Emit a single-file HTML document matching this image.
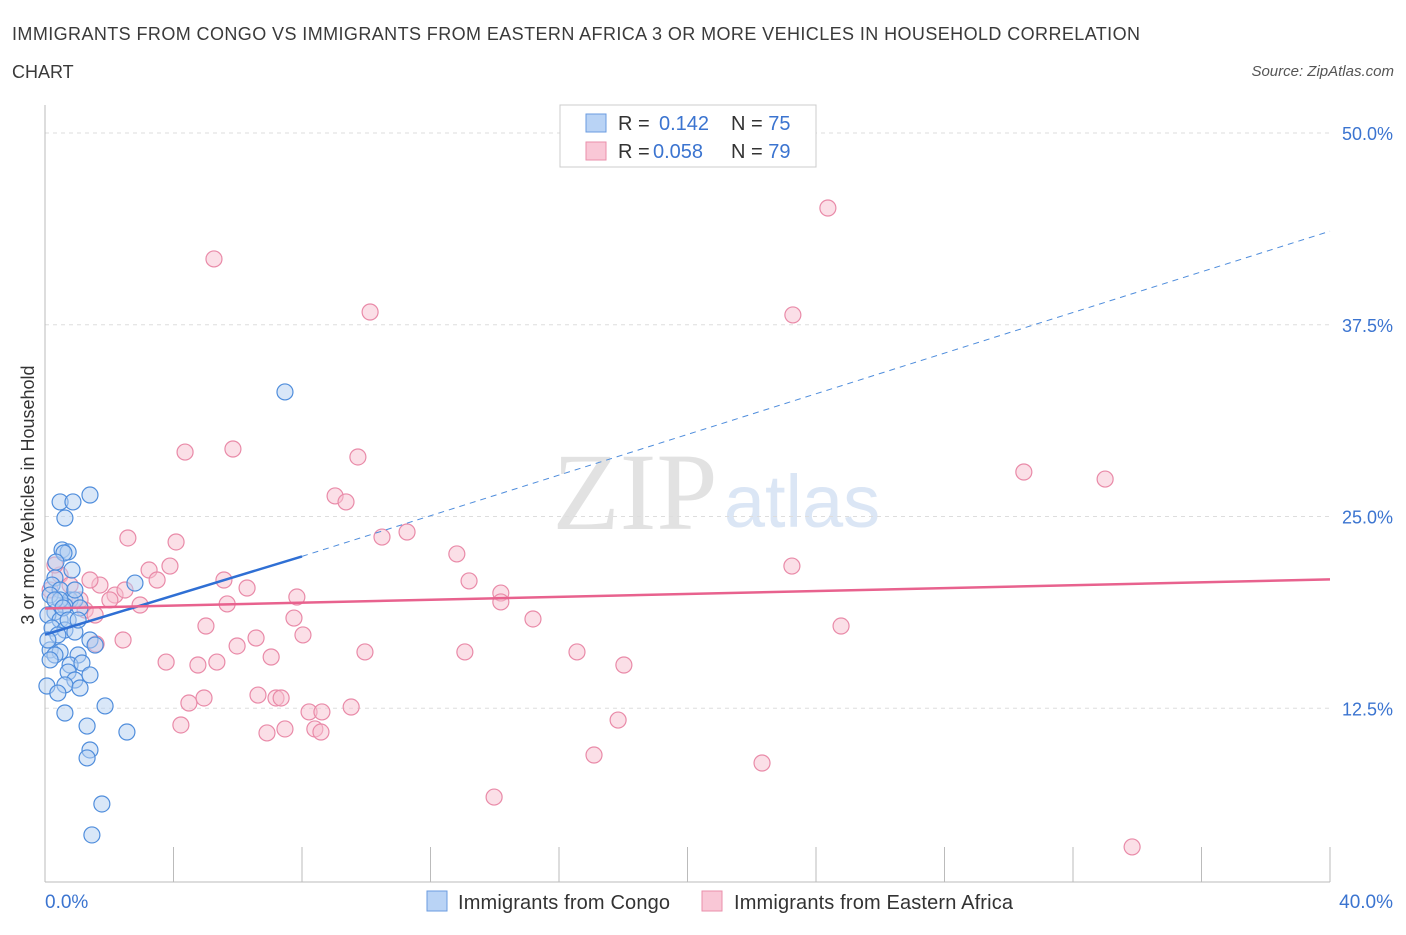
<!DOCTYPE html>
<html><head><meta charset="utf-8"><style>
body{margin:0;background:#fff;font-family:"Liberation Sans",sans-serif}
</style></head><body>
<svg id="chart" width="1406" height="930" xmlns="http://www.w3.org/2000/svg">
<text x="12" y="40" font-size="18" fill="#3a3a3a" textLength="1128">IMMIGRANTS FROM CONGO VS IMMIGRANTS FROM EASTERN AFRICA 3 OR MORE VEHICLES IN HOUSEHOLD CORRELATION</text>
<text x="12" y="78" font-size="18" fill="#3a3a3a">CHART</text>
<text x="1394" y="76" font-size="15" font-style="italic" fill="#555" text-anchor="end">Source: ZipAtlas.com</text>
<text x="635" y="529" font-size="110" font-family="Liberation Serif,serif" fill="#e2e2e2" text-anchor="middle">ZIP</text>
<text x="802" y="527" font-size="74" fill="#dbe6f5" text-anchor="middle">atlas</text>
<g id="grid"></g>
<line x1="45" y1="105" x2="45" y2="882" stroke="#bbb"/>
<line x1="45" y1="882" x2="1330" y2="882" stroke="#bbb"/>
<text transform="translate(34,495) rotate(-90)" font-size="18" fill="#333" text-anchor="middle">3 or more Vehicles in Household</text>
<text x="45" y="908" font-size="19" fill="#3b74d0">0.0%</text>
<text x="1393" y="908" font-size="19" fill="#3b74d0" text-anchor="end">40.0%</text>
<g id="marks"></g>
<rect x="560" y="105" width="256" height="62" fill="#fff" stroke="#ccc"/>
<rect x="586" y="114" width="20" height="18" fill="#b9d3f5" stroke="#6a9be0"/>
<rect x="586" y="142" width="20" height="18" fill="#f9c7d6" stroke="#ea8fab"/>
<text x="618" y="130" font-size="20" fill="#333">R = <tspan fill="#3b74d0" x="659">0.142</tspan><tspan x="731" fill="#333">N = </tspan><tspan fill="#3b74d0">75</tspan></text>
<text x="618" y="158" font-size="20" fill="#333">R = <tspan fill="#3b74d0" x="653">0.058</tspan><tspan x="731" fill="#333">N = </tspan><tspan fill="#3b74d0">79</tspan></text>
<rect x="427" y="891" width="20" height="20" fill="#b9d3f5" stroke="#6a9be0"/>
<text x="458" y="909" font-size="20" fill="#333" textLength="212">Immigrants from Congo</text>
<rect x="702" y="891" width="20" height="20" fill="#f9c7d6" stroke="#ea8fab"/>
<text x="734" y="909" font-size="20" fill="#333" textLength="279">Immigrants from Eastern Africa</text>
</svg>
<script>
const yTicks=[12.5,25,37.5,50];
const yTickLabels=["12.5%","25.0%","37.5%","50.0%"];
const xTicks=[0,4,8,12,16,20,24,28,32,36,40];
const congoPx=[[90,495],[60,502],[73,502],[65,518],[62,550],[68,552],[64,553],[56,562],[55,578],[52,585],[60,590],[50,595],[70,600],[75,600],[65,606],[80,608],[55,612],[48,615],[60,620],[52,628],[65,630],[75,632],[58,635],[90,640],[95,645],[50,650],[60,652],[55,655],[78,655],[70,665],[82,663],[68,672],[90,675],[75,680],[65,685],[80,688],[47,686],[58,693],[65,713],[105,706],[87,726],[127,732],[90,750],[87,758],[102,804],[92,835],[135,583],[285,392],[48,640],[50,660],[60,600],[72,570],[75,590],[55,600],[63,608],[68,620],[78,620]];
const eastPx=[[828,208],[214,259],[370,312],[793,315],[233,449],[185,452],[358,457],[1024,472],[1105,479],[335,496],[346,502],[128,538],[176,542],[382,537],[407,532],[457,554],[792,566],[149,570],[170,566],[157,580],[224,580],[469,581],[247,588],[501,593],[501,602],[297,597],[227,604],[533,619],[841,626],[206,626],[294,618],[303,635],[256,638],[123,640],[237,646],[271,657],[365,652],[465,652],[577,652],[624,665],[166,662],[198,665],[217,662],[96,644],[258,695],[276,698],[281,698],[204,698],[189,703],[309,712],[322,712],[351,707],[181,725],[267,733],[285,729],[315,729],[321,732],[618,720],[594,755],[762,763],[494,797],[1132,847],[100,585],[115,595],[110,600],[125,590],[140,605],[90,580],[60,575],[55,565],[70,585],[85,610],[95,615],[80,600],[50,590]];
const congoX=congoPx.map(p=>+((p[0]-45)/1285*40).toFixed(2));
const congoY=congoPx.map(p=>+((900-p[1])/767*50).toFixed(2));
const eastX=eastPx.map(p=>+((p[0]-45)/1285*40).toFixed(2));
const eastY=eastPx.map(p=>+((900-p[1])/767*50).toFixed(2));
const congoTrend=[[0,17.3],[8,22.4],[40,43.6]];
const eastTrend=[[0,19.0],[40,20.9]];
const X=v=>45+v/40*1285, Y=v=>900-v/50*767;
const NS="http://www.w3.org/2000/svg";
const grid=document.getElementById('grid'), marks=document.getElementById('marks');
function mk(tag,attrs,parent){const e=document.createElementNS(NS,tag);for(const k in attrs)e.setAttribute(k,attrs[k]);parent.appendChild(e);return e;}
yTicks.forEach((t,i)=>{
 const l=mk('line',{x1:45,x2:1330,y1:Y(t),y2:Y(t),stroke:'#ddd','stroke-dasharray':'4,4'},grid);
 
 
 const tx=mk('text',{x:1393,y:Y(t)+7,'font-size':18,fill:'#3b74d0','text-anchor':'end'},grid);
 tx.textContent=yTickLabels[i];
 
 
});
xTicks.forEach(t=>{
 const l=mk('line',{x1:X(t),x2:X(t),y1:847,y2:882,stroke:'#bbb'},grid);
 
 
});
function pts(xs,ys,fill,stroke,name){
 xs.forEach((x,i)=>{
  const c=mk('circle',{cx:X(x),cy:Y(ys[i]),r:8,fill:fill,'fill-opacity':0.5,stroke:stroke,'stroke-width':1.2},marks);
  
  
 });
}
pts(eastX,eastY,'#f7bfd0','#e98aa8','point-eastern-africa');
pts(congoX,congoY,'#b3cff2','#4f8ddc','point-congo');
let l1=mk('line',{x1:X(congoTrend[0][0]),y1:Y(congoTrend[0][1]),x2:X(congoTrend[1][0]),y2:Y(congoTrend[1][1]),stroke:'#2f6fd4','stroke-width':2.5},marks);


let l2=mk('line',{x1:X(congoTrend[1][0]),y1:Y(congoTrend[1][1]),x2:X(congoTrend[2][0]),y2:Y(congoTrend[2][1]),stroke:'#4f8ddc','stroke-width':1,'stroke-dasharray':'6,5'},marks);


let l3=mk('line',{x1:X(eastTrend[0][0]),y1:Y(eastTrend[0][1]),x2:X(eastTrend[1][0]),y2:Y(eastTrend[1][1]),stroke:'#e8628e','stroke-width':2.5},marks);


</script>
</body></html>
